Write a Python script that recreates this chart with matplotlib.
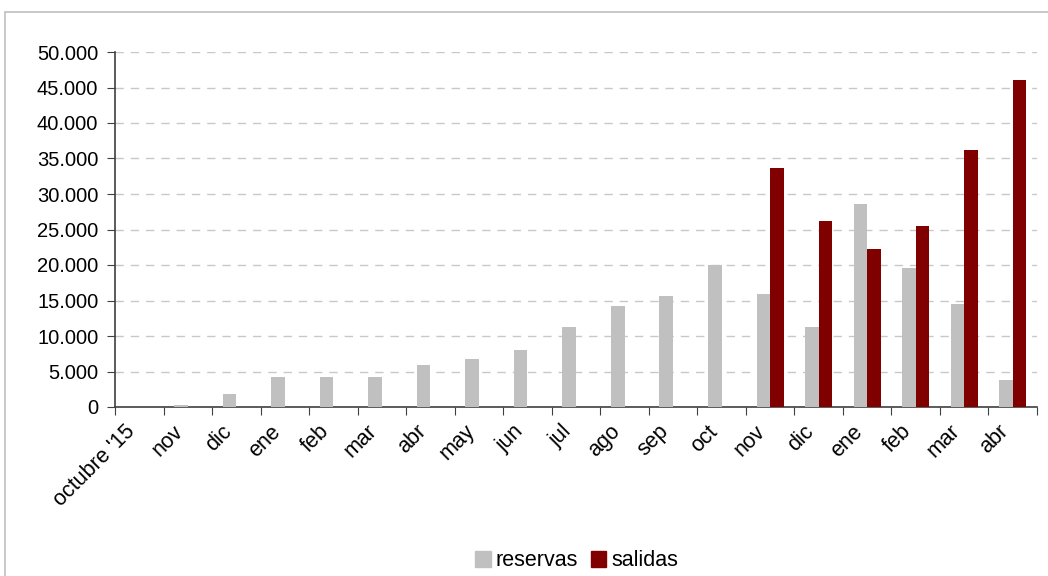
import matplotlib
matplotlib.use("Agg")
import matplotlib.pyplot as plt
from matplotlib.patches import Rectangle, Patch
from matplotlib.ticker import FuncFormatter
import matplotlib.transforms as mtransforms
import numpy as np

plt.rcParams['font.family'] = ['Liberation Sans', 'DejaVu Sans']

categories = ["octubre '15", "nov", "dic", "ene", "feb", "mar", "abr", "may", "jun",
              "jul", "ago", "sep", "oct", "nov", "dic", "ene", "feb", "mar", "abr"]
reservas = [0, 300, 1800, 4200, 4200, 4200, 5900, 6700, 8000, 11300, 14200, 15600,
            20000, 15900, 11200, 28600, 19600, 14500, 3800]
salidas = [0, 0, 0, 0, 0, 0, 0, 0, 0, 0, 0, 0,
           0, 33700, 26200, 22300, 25500, 36200, 46100]

fig = plt.figure(figsize=(10.48, 5.76), dpi=100)
fig.patches.append(Rectangle((5/1048, -0.1), 1.2, 1 - 12/576 + 0.1, transform=fig.transFigure,
                             fill=False, edgecolor='#BFBFBF', linewidth=1.2))
ax = fig.add_axes([115/1048, 1 - 407/576, (1037 - 115)/1048, (407 - 52)/576])

x = np.arange(len(categories))
w = 0.28
gray = '#C0C0C0'
red = '#800000'
ax.bar(x - w/2, reservas, width=w, color=gray, zorder=3)
ax.bar(x + w/2, salidas, width=w, color=red, zorder=3)

ax.set_xlim(-0.5, len(categories) - 0.5)
ax.set_ylim(0, 50000)
ax.set_yticks(np.arange(0, 50001, 5000))
ax.yaxis.set_major_formatter(FuncFormatter(lambda v, p: f"{int(v):,}".replace(",", ".")))
ax.yaxis.grid(True, linestyle=(0, (6, 5)), color='#C8C8C8', linewidth=1, zorder=0)

ax.set_xticks(np.arange(-0.5, len(categories), 1))
ax.set_xticklabels([])
ax.tick_params(axis='x', which='major', length=6, color='#404040', direction='out')
ax.tick_params(axis='y', length=6, color='#404040', labelsize=14.5, pad=6)

base = ax.get_xaxis_transform()
off = mtransforms.ScaledTranslation(-15/100, -14/100, fig.dpi_scale_trans)
for xi, lab in zip(x, categories):
    ax.text(xi, 0, lab, transform=base + off, rotation=45, rotation_mode='anchor',
            ha='right', va='top', fontsize=15.5, clip_on=False)

for s in ['top', 'right']:
    ax.spines[s].set_visible(False)
for s in ['left', 'bottom']:
    ax.spines[s].set_color('#404040')
    ax.spines[s].set_linewidth(1.2)

handles = [Patch(color=gray, label='reservas'), Patch(color=red, label='salidas')]
fig.legend(handles=handles, loc='center', bbox_to_anchor=(577/1048, 1 - 561/576), ncol=2,
           frameon=False, fontsize=15.5, handlelength=0.7, handleheight=0.7,
           handletextpad=0.25, columnspacing=0.6)

fig.savefig('out.png', dpi=100)
